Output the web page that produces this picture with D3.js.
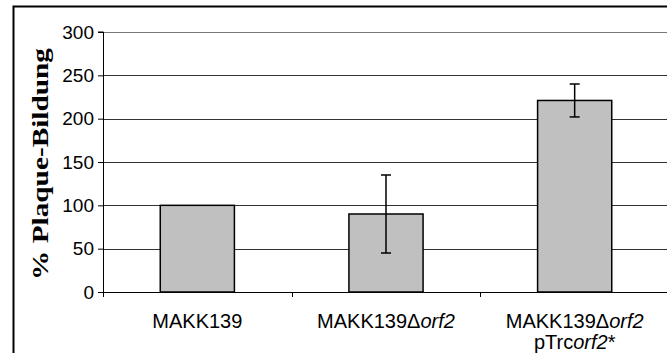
<!DOCTYPE html>
<html>
<head>
<meta charset="utf-8">
<script src="https://cdn.jsdelivr.net/npm/d3@7"></script>
<style>
  body { margin: 0; background: #fff; }
  svg { display: block; }
  .tick text { font-family: Arial, "Liberation Sans", sans-serif; }
</style>
</head>
<body>
<div id="chart"></div>
<script>
// Data
var categories = ['MAKK139', 'MAKK139\u0394orf2', 'MAKK139\u0394orf2 pTrcorf2*'];
var values = [100, 90, 221];
var errors = [0, 45, 19];
var yTicks = [0, 50, 100, 150, 200, 250, 300];
// label parts: [text, italic?] per line
var labelLines = [
    [[['MAKK139', false]]],
    [[['MAKK139\u0394', false], ['orf2', true]]],
    [[['MAKK139\u0394', false], ['orf2', true]], [['pTrc', false], ['orf2', true], ['*', false]]]
];

var data = categories.map(function(c, i) {
    return {cat: c, value: values[i], err: errors[i], lines: labelLines[i]};
});

//   Base chart space
var W = 667, H = 353;
var margin = {top: 32, right: -2, bottom: 61, left: 103},
width = W - margin.left - margin.right,
height = H - margin.top - margin.bottom;

var chart = d3.select('#chart').append('svg')
    .attr('width', W)
    .attr('height', H);

// outer frame (cut off at right and bottom)
chart.append('path')
    .attr('d', 'M13.5,' + H + 'V6.5H' + W)
    .attr('fill', 'none')
    .attr('stroke', '#000')
    .attr('stroke-width', 2);

var g = chart.append('g')
    .attr('transform', 'translate(' + margin.left + ',' + margin.top + ')');

// Scales
var xScale = d3.scaleBand()
    .domain(categories)
    .range([0, width])
    .paddingInner(0.607)
    .paddingOuter(0.3035);

var yScale = d3.scaleLinear()
    .domain([0, 300])
    .range([height, 0]);

// Gridlines
g.append('g')
    .selectAll('line')
    .data(yTicks.slice(1))
    .enter()
    .append('line')
    .attr('x1', 0)
    .attr('x2', width)
    .attr('y1', function(d) { return Math.round(yScale(d)) + 0.5; })
    .attr('y2', function(d) { return Math.round(yScale(d)) + 0.5; })
    .attr('stroke', function(d) { return d === 300 ? '#777' : '#333'; })
    .attr('stroke-width', 1.2);

// Y axis
var yAxis = g.append('g')
    .call(d3.axisLeft(yScale).tickValues(yTicks).tickSize(5).tickPadding(4));
yAxis.select('.domain').attr('stroke', '#000').attr('d', 'M-5,' + yScale(300) + 'H0.5V' + height);
yAxis.selectAll('.tick text')
    .attr('font-size', '19px')
    .attr('fill', '#000');

// axis title, stretched along its length like the original
chart.append('text')
    .text('% Plaque-Bildung')
    .attr('transform', 'translate(48,164)rotate(-90)scale(1.22,1)')
    .attr('text-anchor', 'middle')
    .attr('font-family', '"Liberation Serif", "Times New Roman", serif')
    .attr('font-weight', 'bold')
    .attr('font-size', '24px');

// Bars
g.selectAll('.bar')
    .data(data)
    .enter()
    .append('rect')
    .attr('class', 'bar')
    .attr('x', function(d) { return xScale(d.cat); })
    .attr('y', function(d) { return yScale(d.value); })
    .attr('width', xScale.bandwidth())
    .attr('height', function(d) { return height - yScale(d.value); })
    .attr('fill', '#c0c0c0')
    .attr('stroke', '#000')
    .attr('stroke-width', 1.5);

// X axis
var step = xScale.step();
g.append('line')
    .attr('x1', 0).attr('x2', width)
    .attr('y1', height + 0.5).attr('y2', height + 0.5)
    .attr('stroke', '#000');
g.selectAll('.xtick')
    .data(d3.range(categories.length + 1))
    .enter()
    .append('line')
    .attr('class', 'xtick')
    .attr('x1', function(i) { return Math.round(i * step) + 0.5; })
    .attr('x2', function(i) { return Math.round(i * step) + 0.5; })
    .attr('y1', height)
    .attr('y2', height + 5)
    .attr('stroke', '#000');

// Error bars
var eb = g.selectAll('.err')
    .data(data.filter(function(d) { return d.err > 0; }))
    .enter()
    .append('g')
    .attr('class', 'err')
    .attr('stroke', '#000')
    .attr('stroke-width', 1.5);
eb.append('line')
    .attr('x1', function(d) { return xScale(d.cat) + xScale.bandwidth() / 2; })
    .attr('x2', function(d) { return xScale(d.cat) + xScale.bandwidth() / 2; })
    .attr('y1', function(d) { return yScale(d.value + d.err); })
    .attr('y2', function(d) { return yScale(d.value - d.err); });
[1, -1].forEach(function(s) {
    eb.append('line')
        .attr('x1', function(d) { return xScale(d.cat) + xScale.bandwidth() / 2 - 5; })
        .attr('x2', function(d) { return xScale(d.cat) + xScale.bandwidth() / 2 + 5; })
        .attr('y1', function(d) { return yScale(d.value + s * d.err); })
        .attr('y2', function(d) { return yScale(d.value + s * d.err); });
});

// Category labels
var labels = g.selectAll('.xlabel')
    .data(data)
    .enter()
    .append('text')
    .attr('class', 'xlabel')
    .attr('text-anchor', 'middle')
    .attr('font-family', 'Arial, "Liberation Sans", sans-serif')
    .attr('font-size', '20px')
    .attr('transform', function(d) {
        return 'translate(' + (xScale(d.cat) + xScale.bandwidth() / 2) + ',' + (height + 36) + ')';
    });
labels.each(function(d) {
    var t = d3.select(this);
    d.lines.forEach(function(line, li) {
        line.forEach(function(part, pi) {
            var ts = t.append('tspan').text(part[0]);
            if (pi === 0) ts.attr('x', 0).attr('dy', li === 0 ? 0 : 21);
            if (part[1]) ts.attr('font-style', 'italic');
        });
    });
});
</script>
</body>
</html>
